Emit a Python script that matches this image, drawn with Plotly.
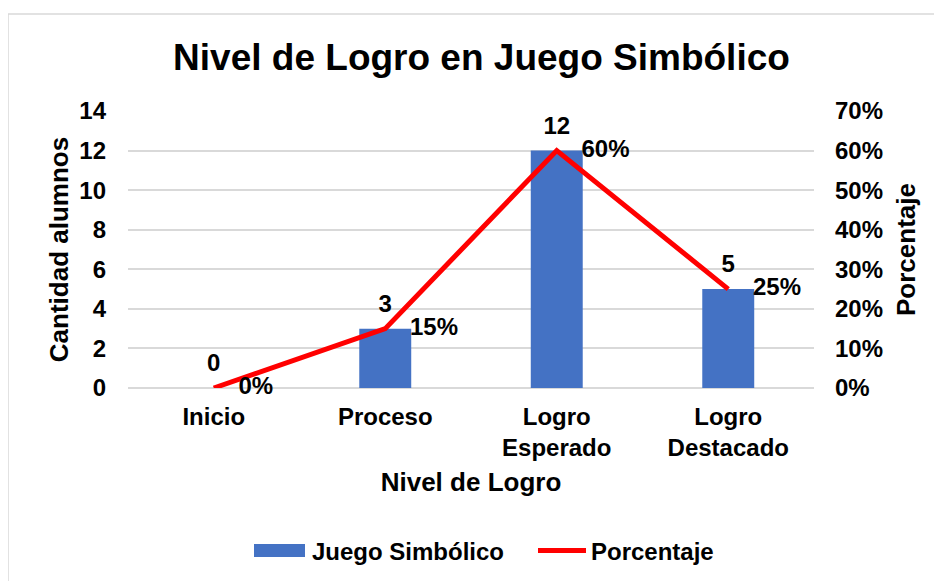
import plotly.graph_objects as go

categories = ["Inicio", "Proceso", "Logro<br>Esperado", "Logro<br>Destacado"]
alumnos = [0, 3, 12, 5]
porcentaje = [0.0, 0.15, 0.60, 0.25]
pct_labels = ["0%", "15%", "60%", "25%"]
series_names = ["Juego Simbólico", "Porcentaje"]

FONT = "Liberation Sans, Arial, sans-serif"
BLUE = "#4472C4"
RED = "#FF0000"
GRID = "#D9D9D9"
BOLD = dict(family=FONT, color="black", weight="bold")

fig = go.Figure()

fig.add_trace(go.Bar(
    x=categories, y=alumnos, name=series_names[0],
    marker=dict(color=BLUE, line=dict(width=0)),
    width=0.303, hoverinfo="skip", showlegend=False,
))
fig.add_trace(go.Scatter(
    x=categories, y=porcentaje, name=series_names[1], yaxis="y2",
    mode="lines", line=dict(color=RED, width=5), hoverinfo="skip", showlegend=False,
))
# bar value labels
fig.add_trace(go.Scatter(
    x=categories, y=alumnos, mode="markers+text", text=[str(v) for v in alumnos],
    textposition="top center", marker=dict(size=16, opacity=0),
    textfont=dict(size=24, **BOLD),
    showlegend=False, hoverinfo="skip", cliponaxis=False,
))
# percentage labels
fig.add_trace(go.Scatter(
    x=categories, y=porcentaje, yaxis="y2", mode="markers+text", text=pct_labels,
    textposition="middle right", marker=dict(size=38, opacity=0),
    textfont=dict(size=24, **BOLD),
    showlegend=False, hoverinfo="skip", cliponaxis=False,
))

# page body has an 8px margin, so the figure is offset by (8, 8)
OFF = 8
W, H = 942 - OFF, 581 - OFF
L, T = 128 - OFF, 111 - OFF
pw, ph = 686, 277
R, B = W - L - pw, H - T - ph

def px(x):
    return (x - OFF - L) / pw

def py(y):
    return (T + ph - (y - OFF)) / ph

# custom legend (key shapes + labels)
legend_shapes = [
    dict(type="rect", xref="paper", yref="paper",
         x0=px(254), x1=px(305), y0=py(557), y1=py(544),
         line=dict(width=0), fillcolor=BLUE),
    dict(type="line", xref="paper", yref="paper",
         x0=px(538), x1=px(586), y0=py(550.5), y1=py(550.5),
         line=dict(color=RED, width=5)),
]
legend_ann = [
    dict(text=series_names[0], xref="paper", yref="paper", x=px(310), y=py(551),
         xanchor="left", yanchor="middle", showarrow=False, font=dict(size=24, **BOLD)),
    dict(text=series_names[1], xref="paper", yref="paper", x=px(589), y=py(551),
         xanchor="left", yanchor="middle", showarrow=False, font=dict(size=24, **BOLD)),
]

fig.update_layout(
    width=W, height=H,
    margin=dict(l=L, r=R, t=T, b=B, pad=0),
    paper_bgcolor="white", plot_bgcolor="white",
    font=dict(size=24, **BOLD),
    title=dict(text="Nivel de Logro en Juego Simbólico", x=(481.5 - OFF) / W, xanchor="center",
               xref="container", y=1 - (57 - OFF) / H, yanchor="middle", yref="container",
               font=dict(size=37, **BOLD)),
    bargap=0.7,
    showlegend=False,
    xaxis=dict(
        categoryorder="array", categoryarray=categories,
        showgrid=False, showline=False, ticks="", ticklabelstandoff=12,
        tickfont=dict(size=24, **BOLD),
        title=dict(text="Nivel de Logro", standoff=12, font=dict(size=26, **BOLD)),
        fixedrange=True,
    ),
    yaxis=dict(
        range=[0, 14], dtick=2, showgrid=True, gridcolor=GRID, gridwidth=1.5,
        zeroline=True, zerolinecolor=GRID, zerolinewidth=1.5, showline=False,
        ticks="", ticklabelstandoff=21,
        tickfont=dict(size=24, **BOLD),
        title=dict(text="Cantidad alumnos", standoff=3, font=dict(size=26, **BOLD)),
        fixedrange=True,
    ),
    yaxis2=dict(
        range=[0, 0.7], dtick=0.1, tickformat=".0%", overlaying="y", side="right",
        showgrid=False, zeroline=False, showline=False, ticks="", ticklabelstandoff=20,
        tickfont=dict(size=24, **BOLD),
        title=dict(text="Porcentaje", standoff=14, font=dict(size=26, **BOLD)),
        fixedrange=True,
    ),
    shapes=[dict(type="rect", xref="paper", yref="paper",
                 x0=px(8), x1=px(960), y0=py(600), y1=py(14),
                 line=dict(color=GRID, width=1.5), fillcolor="rgba(0,0,0,0)", layer="below")]
           + legend_shapes,
    annotations=legend_ann,
)

fig.write_html("out.html")
